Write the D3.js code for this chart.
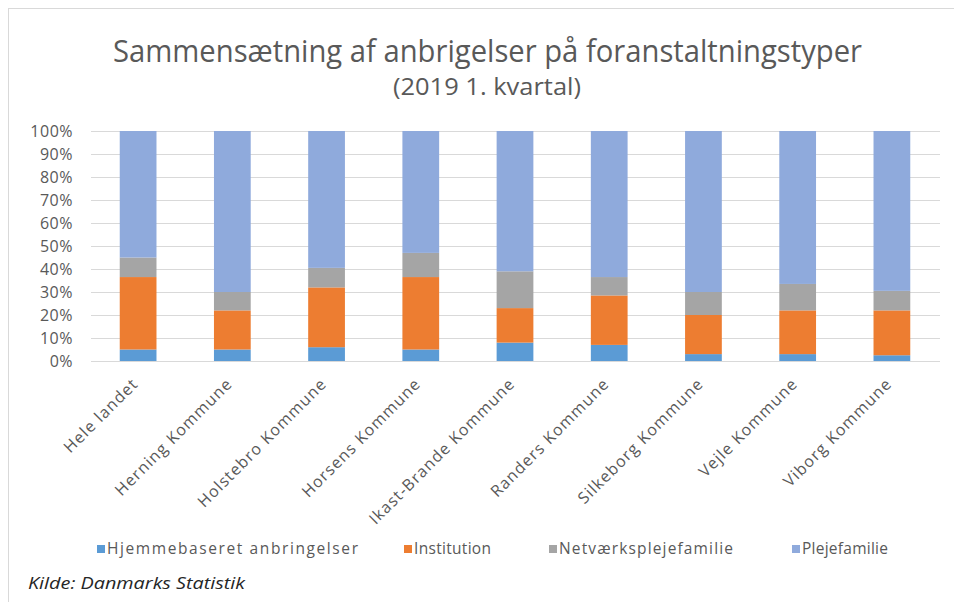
<!DOCTYPE html>
<html>
<head>
<meta charset="utf-8">
<script src="https://cdn.jsdelivr.net/npm/d3@7"></script>
<style>
  body { margin: 0; background: #fff; }
  svg { display: block; font-family: "Open Sans", Lato, sans-serif; }
</style>
</head>
<body>
<script>
var w = 954;
var h = 602;

// categories (kommuner)
var categories = ["Hele landet", "Herning Kommune", "Holstebro Kommune", "Horsens Kommune",
    "Ikast-Brande Kommune", "Randers Kommune", "Silkeborg Kommune", "Vejle Kommune", "Viborg Kommune"];

// shares in percent
var hjemmebaseret = [5, 5, 6, 5, 8, 7, 3, 3, 2.5];
var institution   = [31.5, 17, 26, 31.5, 15, 21.5, 17, 19, 19.5];
var netvaerk      = [8.5, 8, 8.5, 10.5, 16, 8, 10, 11.5, 8.5];
var plejefamilie  = [55, 70, 59.5, 53, 61, 63.5, 70, 66.5, 69.5];

var seriesNames = ["Hjemmebaseret anbringelser", "Institution", "Netværksplejefamilie", "Plejefamilie"];
var colors = ["#5B9BD5", "#ED7D31", "#A5A5A5", "#8FAADC"];
var yTicks = [0, 10, 20, 30, 40, 50, 60, 70, 80, 90, 100];

var keys = ["h", "i", "n", "p"];
var rows = categories.map(function(c, i) {
    return { cat: c, h: hjemmebaseret[i], i: institution[i], n: netvaerk[i], p: plejefamilie[i] };
});

var svg = d3.select("body").append("svg")
    .attr("width", w)
    .attr("height", h);

// frame
svg.append("rect")
    .attr("x", 8.5).attr("y", 8.5)
    .attr("width", w + 20).attr("height", h + 20)
    .attr("fill", "none")
    .attr("stroke", "#d9d9d9");

// titles
svg.append("text")
    .attr("x", 113).attr("y", 62)
    .attr("font-size", 31)
    .attr("fill", "#595959")
    .attr("textLength", 749)
    .attr("lengthAdjust", "spacingAndGlyphs")
    .text("Sammensætning af anbrigelser på foranstaltningstyper");

svg.append("text")
    .attr("x", 393).attr("y", 95)
    .attr("font-size", 24)
    .attr("fill", "#595959")
    .attr("textLength", 188)
    .attr("lengthAdjust", "spacingAndGlyphs")
    .text("(2019 1. kvartal)");

var xScale = d3.scaleBand()
    .domain(categories)
    .range([91, 939])
    .paddingInner(0.61)
    .paddingOuter(0.305);

var yScale = d3.scaleLinear()
    .domain([0, 100])
    .range([361, 131]);

// gridlines
svg.append("g")
    .selectAll("line")
    .data(yTicks)
    .enter()
    .append("line")
    .attr("x1", 91).attr("x2", 940)
    .attr("y1", function(d) { return Math.round(yScale(d)) + 0.5; })
    .attr("y2", function(d) { return Math.round(yScale(d)) + 0.5; })
    .attr("stroke", "#d9d9d9")
    .attr("stroke-width", 1);

// y axis labels
var yAxis = d3.axisLeft(yScale)
    .tickValues(yTicks)
    .tickFormat(function(d) { return d + "%"; })
    .tickSize(0)
    .tickPadding(0);

var gy = svg.append("g")
    .attr("transform", "translate(73,0)")
    .call(yAxis);
gy.select(".domain").remove();
gy.selectAll("text")
    .attr("font-family", "'Open Sans', sans-serif")
    .attr("font-size", 16)
    .attr("letter-spacing", 0.5)
    .attr("fill", "#595959");

// stacked bars
var stack = d3.stack().keys(keys);
var series = stack(rows);

var groups = svg.selectAll("g.series")
    .data(series)
    .enter()
    .append("g")
    .attr("class", "series")
    .attr("fill", function(d, i) { return colors[i]; });

groups.selectAll("rect")
    .data(function(d) { return d; })
    .enter()
    .append("rect")
    .attr("x", function(d) { return xScale(d.data.cat); })
    .attr("y", function(d) { return yScale(d[1]); })
    .attr("height", function(d) { return yScale(d[0]) - yScale(d[1]); })
    .attr("width", xScale.bandwidth());

// x axis labels, rotated
var xAxis = d3.axisBottom(xScale).tickSize(0).tickPadding(0);
var gx = svg.append("g")
    .attr("transform", "translate(0,361)")
    .call(xAxis);
gx.select(".domain").remove();
gx.selectAll("text")
    .attr("font-family", "'Open Sans', sans-serif")
    .attr("font-size", 16)
    .attr("letter-spacing", 1.1)
    .attr("fill", "#595959")
    .attr("text-anchor", "end")
    .attr("dy", "0.35em")
    .attr("transform", "translate(-3,20) rotate(-45)");

// legend
var legendX = [97, 404, 549, 792];
var legendW = [261, 87, 184, 96];
var legend = svg.append("g")
    .selectAll("g")
    .data(seriesNames)
    .enter()
    .append("g")
    .attr("transform", function(d, i) { return "translate(" + legendX[i] + ",549)"; });

legend.append("rect")
    .attr("x", 0).attr("y", -4)
    .attr("width", 8).attr("height", 8)
    .attr("fill", function(d, i) { return colors[i]; });

legend.append("text")
    .attr("x", 10)
    .attr("y", 0)
    .attr("dy", "0.35em")
    .attr("font-size", 15.5)
    .attr("fill", "#595959")
    .attr("textLength", function(d, i) { return legendW[i] - 10; })
    .attr("lengthAdjust", "spacing")
    .text(function(d) { return d; });

// source
svg.append("text")
    .attr("x", 28).attr("y", 589)
    .attr("font-size", 16)
    .attr("font-style", "italic")
    .attr("fill", "#262626")
    .attr("textLength", 217)
    .attr("lengthAdjust", "spacingAndGlyphs")
    .text("Kilde: Danmarks Statistik");
</script>
</body>
</html>
